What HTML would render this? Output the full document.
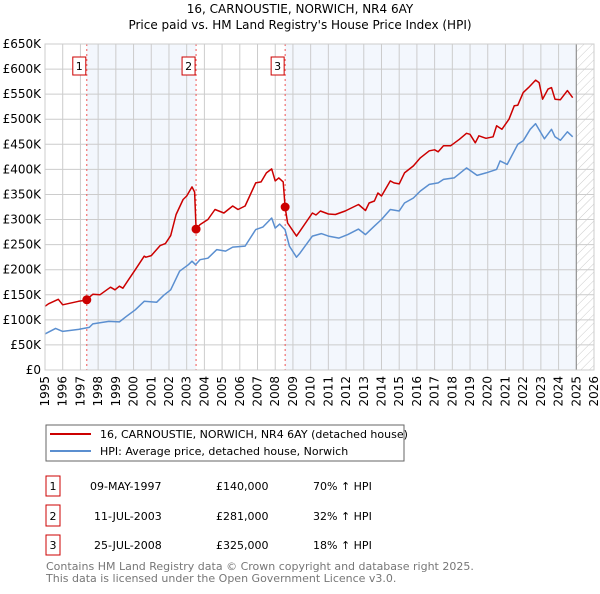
<!DOCTYPE html>
<html><head><meta charset="utf-8"><style>
body{margin:0;background:#fff;width:600px;height:590px;overflow:hidden;font-family:"DejaVu Sans","Liberation Sans",sans-serif}
svg text{font-family:"DejaVu Sans","Liberation Sans",sans-serif}
</style></head><body>
<svg id="c" width="600" height="590" xmlns="http://www.w3.org/2000/svg">
<defs><pattern id="hatch" width="6" height="6" patternUnits="userSpaceOnUse" patternTransform="rotate(45)"><line x1="0" y1="0" x2="0" y2="6" stroke="#ccc" stroke-width="1"/></pattern></defs>
<text x="300" y="13" text-anchor="middle" font-size="12">16, CARNOUSTIE, NORWICH, NR4 6AY</text>
<text x="300" y="29" text-anchor="middle" font-size="12">Price paid vs. HM Land Registry's House Price Index (HPI)</text>
<g id="plot"></g>
<g>
<rect x="46" y="425" width="358" height="36" fill="#fff" stroke="#666"/>
<line x1="50" y1="434" x2="91" y2="434" stroke="#cc0000" stroke-width="2"/>
<text x="100" y="438" font-size="11">16, CARNOUSTIE, NORWICH, NR4 6AY (detached house)</text>
<line x1="50" y1="451" x2="91" y2="451" stroke="#5b8fd0" stroke-width="2"/>
<text x="100" y="455" font-size="11">HPI: Average price, detached house, Norwich</text>
</g>
<g font-size="11">
<rect x="46" y="476" width="14" height="20" fill="#fff" stroke="#cc0000"/><text x="53" y="490" text-anchor="middle">1</text>
<text x="90" y="490">09-MAY-1997</text><text x="216" y="490">£140,000</text><text x="313" y="490">70% ↑ HPI</text>
<rect x="46" y="505" width="14" height="21" fill="#fff" stroke="#cc0000"/><text x="53" y="520" text-anchor="middle">2</text>
<text x="94" y="520">11-JUL-2003</text><text x="216" y="520">£281,000</text><text x="313" y="520">32% ↑ HPI</text>
<rect x="46" y="535" width="14" height="20" fill="#fff" stroke="#cc0000"/><text x="53" y="549" text-anchor="middle">3</text>
<text x="94" y="549">25-JUL-2008</text><text x="216" y="549">£325,000</text><text x="313" y="549">18% ↑ HPI</text>
</g>
<text x="46" y="570" font-size="11" fill="#777">Contains HM Land Registry data © Crown copyright and database right 2025.</text>
<text x="46" y="582" font-size="11" fill="#777">This data is licensed under the Open Government Licence v3.0.</text>
</svg>
<script>
const yTicks=[0,50,100,150,200,250,300,350,400,450,500,550,600,650];
const yTickLabels=["£0","£50K","£100K","£150K","£200K","£250K","£300K","£350K","£400K","£450K","£500K","£550K","£600K","£650K"];
const xYears=[1995,1996,1997,1998,1999,2000,2001,2002,2003,2004,2005,2006,2007,2008,2009,2010,2011,2012,2013,2014,2015,2016,2017,2018,2019,2020,2021,2022,2023,2024,2025,2026];
const redT=[1995.0,1995.2,1995.75,1996.0,1996.9,1997.3,1997.7,1998.1,1998.7,1998.95,1999.2,1999.4,1999.7,2000.1,2000.6,2000.7,2001.0,2001.5,2001.8,2002.1,2002.4,2002.8,2003.0,2003.3,2003.45,2003.53,2003.75,2004.2,2004.6,2005.1,2005.6,2005.9,2006.3,2006.9,2007.2,2007.5,2007.8,2008.0,2008.2,2008.45,2008.56,2008.7,2009.2,2009.4,2010.1,2010.3,2010.55,2011.0,2011.4,2011.95,2012.7,2013.1,2013.3,2013.6,2013.8,2014.0,2014.5,2014.7,2015.0,2015.3,2015.8,2016.2,2016.7,2017.0,2017.2,2017.5,2017.9,2018.4,2018.8,2019.0,2019.3,2019.5,2019.9,2020.3,2020.5,2020.8,2021.2,2021.5,2021.7,2022.0,2022.3,2022.7,2022.9,2023.1,2023.4,2023.6,2023.8,2024.1,2024.5,2024.8];
const redV=[127,132,141,130,137,139,151,150,165,160,167,163,179,200,227,225,228,248,252,268,310,340,347,365,355,281,290,300,320,313,327,320,327,373,375,393,401,377,383,375,325,293,267,277,313,309,317,311,310,317,330,318,333,337,353,347,377,373,371,393,407,423,437,439,435,447,447,460,472,470,453,467,462,465,487,480,500,527,528,553,563,578,573,540,560,563,540,539,557,543];
const blueT=[1995.0,1995.6,1996.0,1996.9,1997.5,1997.7,1998.6,1999.2,1999.6,2000.1,2000.6,2001.3,2001.7,2002.1,2002.6,2003.1,2003.3,2003.5,2003.75,2004.2,2004.7,2005.2,2005.6,2006.3,2006.9,2007.3,2007.8,2008.0,2008.25,2008.55,2008.8,2009.2,2009.4,2010.1,2010.6,2011.0,2011.6,2012.1,2012.7,2013.1,2013.6,2014.0,2014.5,2015.0,2015.3,2015.8,2016.2,2016.7,2017.2,2017.5,2018.1,2018.8,2019.4,2019.9,2020.5,2020.7,2021.1,2021.7,2022.0,2022.4,2022.7,2023.2,2023.6,2023.8,2024.1,2024.5,2024.8];
const blueV=[72,83,77,81,85,92,97,96,107,120,137,135,149,160,197,210,217,210,220,223,240,237,245,247,280,285,303,283,291,280,247,225,233,267,272,267,263,270,281,270,287,300,320,317,333,343,357,370,373,380,383,403,388,393,400,417,410,450,457,480,491,461,480,465,458,475,465];
const saleT=[1997.36,2003.53,2008.56];
const saleV=[140,281,325];
const saleLabels=["1","2","3"];

const L=45,R=594,T=44,B=370,NS="http://www.w3.org/2000/svg";
const x=t=>L+(t-1995)/(2026-1995)*(R-L);
const y=v=>B-v/650*(B-T);
const g=document.getElementById('plot');
function mk(tag,attrs,parent){const e=document.createElementNS(NS,tag);for(const k in attrs)e.setAttribute(k,attrs[k]);(parent||g).appendChild(e);return e;}
let e;
e=mk('rect',{x:L,y:T,width:R-L,height:B-T,fill:'#fff'});


e=mk('rect',{x:x(saleT[0]),y:T,width:x(saleT[1])-x(saleT[0]),height:B-T,fill:'#eef3fc',opacity:0.7});


e=mk('rect',{x:x(saleT[2]),y:T,width:x(2025)-x(saleT[2]),height:B-T,fill:'#eef3fc',opacity:0.7});


e=mk('rect',{x:x(2025),y:T,width:R-x(2025),height:B-T,fill:'url(#hatch)'});


xYears.forEach(yr=>{
 e=mk('line',{x1:x(yr),y1:T,x2:x(yr),y2:B,stroke:'#ccc','stroke-width':1});
 
 
 e=mk('text',{x:0,y:0,'font-size':12,'text-anchor':'end',transform:`translate(${x(yr)+4},${B+6}) rotate(-90)`});
 e.textContent=yr;
 
 
});
yTicks.forEach((v,i)=>{
 e=mk('line',{x1:L,y1:y(v),x2:R,y2:y(v),stroke:'#ccc','stroke-width':1});
 
 
 e=mk('text',{x:L-4,y:y(v)+4,'font-size':12,'text-anchor':'end'});
 e.textContent=yTickLabels[i];
 
 
});
e=mk('line',{x1:x(2025),y1:T,x2:x(2025),y2:B,stroke:'#888','stroke-width':1});


saleT.forEach((t,i)=>{
 e=mk('line',{x1:x(t),y1:T,x2:x(t),y2:B,stroke:'#e55','stroke-width':1,'stroke-dasharray':'2,3'});
 
 
 e=mk('rect',{x:x(t)-14,y:57,width:13,height:18,fill:'#fff',stroke:'#cc0000'});
 
 
 e=mk('text',{x:x(t)-7.5,y:70,'font-size':11,'text-anchor':'middle'});
 e.textContent=saleLabels[i];
 
 
});
const pts=(ts,vs)=>ts.map((t,i)=>x(t).toFixed(1)+','+y(vs[i]).toFixed(1)).join(' ');
e=mk('polyline',{points:pts(blueT,blueV),fill:'none',stroke:'#5b8fd0','stroke-width':1.5,'stroke-linejoin':'round'});


e=mk('polyline',{points:pts(redT,redV),fill:'none',stroke:'#cc0000','stroke-width':1.5,'stroke-linejoin':'round'});


saleT.forEach((t,i)=>{
 e=mk('circle',{cx:x(t),cy:y(saleV[i]),r:4.5,fill:'#cc0000'});
 
 
});
e=mk('rect',{x:L,y:T,width:R-L,height:B-T,fill:'none',stroke:'#ccc'});


</script>
</body></html>
